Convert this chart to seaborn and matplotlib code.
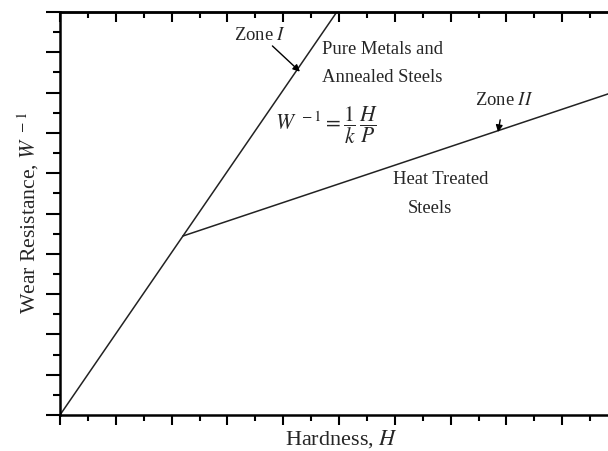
import numpy as np
import pandas as pd
import matplotlib
matplotlib.use("Agg")
import matplotlib.pyplot as plt
import seaborn as sns

# Zone I: pure metals / annealed steels, Zone II: heat treated steels
zona1_h = [0.0, 4.96]
zona1_w = [0.0, 10.0]
zona2_h = [2.2, 10.0]
zona2_w = [4.44, 8.05]

sns.set_theme(style="ticks")
plt.rcParams['font.family'] = ['Liberation Serif', 'DejaVu Serif']
plt.rcParams['mathtext.fontset'] = 'stix'

dados = pd.concat([
    pd.DataFrame({'H': zona1_h, 'W': zona1_w, 'zona': 'I'}),
    pd.DataFrame({'H': zona2_h, 'W': zona2_w, 'zona': 'II'}),
])

fig = plt.figure(figsize=(6.08, 4.52), dpi=100)
ax = fig.add_axes([60 / 608, 36 / 452, 548 / 608, 403 / 452])

sns.lineplot(data=dados, x='H', y='W', units='zona', estimator=None,
             color='#222222', linewidth=1.1, ax=ax, sort=False)

ax.set_xlim(0, 9.82)
ax.set_ylim(0, 10)
ax.set_xticks(np.arange(0, 10, 1))
ax.set_xticks(np.arange(0.5, 10, 1), minor=True)
ax.set_yticks(np.arange(0, 11, 1))
ax.set_yticks(np.arange(0.5, 10, 1), minor=True)
ax.tick_params(which='both', labelbottom=False, labelleft=False, color='black', width=1.5)
ax.tick_params(which='major', length=7, direction='out')
ax.tick_params(which='minor', length=4, direction='out')
ax.tick_params(axis='y', which='major', length=10)
ax.tick_params(axis='y', which='minor', length=5)
for s in ['left', 'bottom', 'top']:
    ax.spines[s].set_visible(True)
    ax.spines[s].set_linewidth(1.8)
    ax.spines[s].set_color('black')
ax.spines['right'].set_visible(False)

topo = ax.secondary_xaxis('top')
topo.set_xticks(np.arange(0, 10, 1))
topo.set_xticks(np.arange(0.5, 10, 1), minor=True)
topo.tick_params(which='both', direction='in', labeltop=False, width=1.5, color='black')
topo.tick_params(which='major', length=7)
topo.tick_params(which='minor', length=4)
topo.spines['top'].set_linewidth(1.8)

ax.set_xlabel('Hardness, $H$', fontsize=16, labelpad=2, x=(342 - 60) / 548)
ax.set_ylabel('Wear Resistance, $W^{\\ -1}$', fontsize=15.6, labelpad=4, y=0.505)

fs = 13.4
ax.annotate('Zone $I$', xy=(4.3, 8.52), xytext=(3.58, 9.45), fontsize=fs,
            ha='center', va='center',
            arrowprops=dict(arrowstyle='-|>', color='black', lw=1, shrinkA=0, shrinkB=0,
                            mutation_scale=10))
ax.text(5.78, 9.1, 'Pure Metals and', fontsize=fs, ha='center', va='center')
ax.text(5.78, 8.4, 'Annealed Steels', fontsize=fs, ha='center', va='center')
ax.text(4.78, 7.22, r'$W^{\ -1} = \dfrac{1}{k}\,\dfrac{H}{P}$', fontsize=15.5,
        ha='center', va='center')
ax.annotate('Zone $II$', xy=(7.85, 7.02), xytext=(7.95, 7.82), fontsize=fs,
            ha='center', va='center',
            arrowprops=dict(arrowstyle='-|>', color='black', lw=1, shrinkA=6, shrinkB=0,
                            mutation_scale=10))
ax.text(6.83, 5.88, 'Heat Treated', fontsize=fs, ha='center', va='center')
ax.text(6.62, 5.15, 'Steels', fontsize=fs, ha='center', va='center')

fig.savefig('out.png', dpi=100)
